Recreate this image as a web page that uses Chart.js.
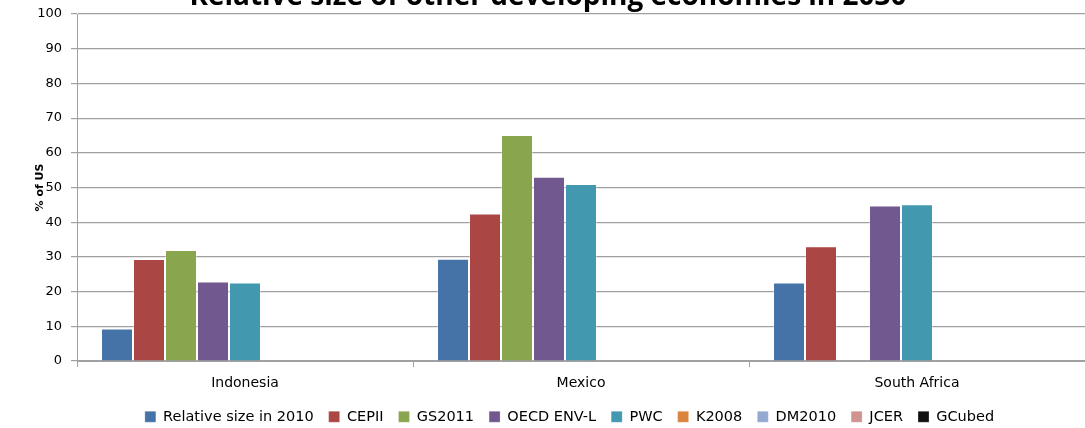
<!DOCTYPE html>
<html>
<head>
<meta charset="utf-8">
<script src="https://cdn.jsdelivr.net/npm/chart.js@4.4.1/dist/chart.umd.min.js"></script>
<style>
  html, body { margin: 0; padding: 0; background: #fff; }
  #wrap { position: relative; width: 1085px; height: 428px; }
</style>
</head>
<body>
<div id="wrap"><canvas id="c" width="1085" height="428"></canvas></div>
<script>
const FONT = "'DejaVu Sans', 'Noto Sans', sans-serif";
const INK = '#000', GRID = '#a0a0a0';

const countries = ['Indonesia', 'Mexico', 'South Africa'];
const seriesNames = ['Relative size in 2010', 'CEPII', 'GS2011', 'OECD ENV-L', 'PWC', 'K2008', 'DM2010', 'JCER', 'GCubed'];
const seriesColors = ['#4572A7', '#AA4643', '#89A54E', '#71588F', '#4198AF', '#DB843D', '#93A9CF', '#D19392', '#111111'];

// % of US, one array per source
const rel2010 = [9.4, 29.5, 22.6];
const cepii   = [29.4, 42.5, 33.1];
const gs2011  = [32.0, 65.1, null];
const oecd    = [22.9, 53.1, 44.8];
const pwc     = [22.6, 51.0, 45.2];
const k2008   = [null, null, null];
const dm2010  = [null, null, null];
const jcer    = [null, null, null];
const gcubed  = [null, null, null];
const seriesValues = [rel2010, cepii, gs2011, oecd, pwc, k2008, dm2010, jcer, gcubed];

const yTicks = [0, 10, 20, 30, 40, 50, 60, 70, 80, 90, 100];

// title runs off the top edge, so it is painted by hand
const clippedTitle = {
  id: 'clippedTitle',
  afterDraw(chart) {
    const ctx = chart.ctx;
    ctx.save();
    ctx.font = "bold 28px 'Open Sans', sans-serif";
    ctx.fillStyle = '#000';
    ctx.textAlign = 'center';
    ctx.textBaseline = 'alphabetic';
    ctx.fillText('Relative size of other developing economies in 2030', 548, 5);
    ctx.restore();
  },
};

// move the legend row down and under the plot area
const legendNudge = {
  id: 'legendNudge',
  afterLayout(chart) {
    const lg = chart.legend;
    lg.top += 6;
    lg.bottom += 6;
    lg.left += 27;
    lg.right += 27;
  },
};

new Chart(document.getElementById('c'), {
  type: 'bar',
  data: {
    labels: countries,
    datasets: seriesNames.map((name, i) => ({
      label: name,
      data: seriesValues[i],
      backgroundColor: seriesColors[i],
      borderColor: 'rgba(255,255,255,0.35)',
      borderWidth: { top: 1, left: 1, right: 1, bottom: 0 },
      barPercentage: 1,
      categoryPercentage: 0.857,
    })),
  },
  options: {
    responsive: false,
    animation: false,
    layout: { padding: { top: 14, right: 0, left: 0, bottom: 0 } },
    plugins: {
      title: { display: false },
      tooltip: { enabled: false },
      legend: {
        position: 'bottom',
        labels: {
          font: { family: FONT, size: 14.5 },
          color: INK,
          boxWidth: 11,
          boxHeight: 11,
          padding: 15,
        },
      },
    },
    scales: {
      x: {
        afterFit(scale) { scale.height = 27.5; },
        grid: { display: true, drawOnChartArea: false, offset: true, color: GRID, tickLength: 6 },
        border: { color: GRID },
        ticks: { font: { family: FONT, size: 14 }, color: INK, padding: 8 },
      },
      y: {
        min: 0,
        max: 100,
        afterBuildTicks(scale) { scale.ticks = yTicks.map((v) => ({ value: v })); },
        afterFit(scale) {
          scale.width = 77;
          // let the 100 label hang above the plot instead of pushing it down
          scale.paddingTop = 0;
          scale.paddingBottom = 0;
        },
        grid: { color: GRID, lineWidth: 1.2, tickLength: 6 },
        border: { color: GRID },
        ticks: { font: { family: FONT, size: 13 }, color: INK, padding: 9 },
        title: {
          display: true,
          text: '% of US',
          font: { family: FONT, size: 11, weight: 'bold' },
          color: INK,
          padding: { top: 34, bottom: 0 },
        },
      },
    },
  },
  plugins: [clippedTitle, legendNudge],
});
</script>
</body>
</html>
